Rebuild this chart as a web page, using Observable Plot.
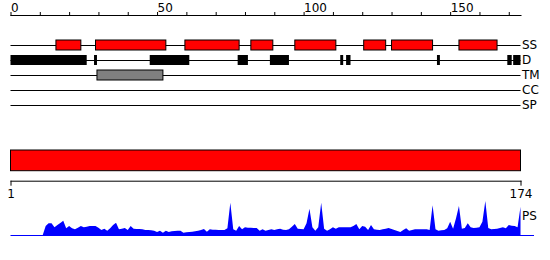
<!DOCTYPE html>
<html><head><meta charset="utf-8">
<script src="https://cdn.jsdelivr.net/npm/d3@7"></script>
<script src="https://cdn.jsdelivr.net/npm/@observablehq/plot@0.6"></script>
<style>
body{margin:0;background:#fff}
#chart{position:relative;width:550px;height:260px;font-family:"DejaVu Sans",sans-serif}
#chart svg{position:absolute;left:0}
</style>
</head><body><div id="chart"></div>
<script>
const tracks = ["SS","D","TM","CC","SP"];
const seqLength = 174;
const axisTicks = d3.range(0, 171, 10);
const axisLabels = [0, 50, 100, 150];
const rulerTicks = [1, 174];
const ssStart = [15.5, 29, 59.5, 82, 97, 120.5, 130, 153];
const ssEnd   = [24, 53, 78, 89.5, 111, 128, 144, 166];
const dStart  = [0, 28.5, 47.5, 77.5, 88.5, 112.5, 114.5, 145.5, 169.5, 171.5];
const dEnd    = [26, 29.5, 61, 81, 95, 113.5, 116, 146.5, 171, 174];
const tmStart = [29.5];
const tmEnd   = [52];
const psValues = [
0,0,0,0,0,0,0,0,0,0,0,
27,35,35,23,30,36,43,20,27,20,17,22,27,23,25,27,27,27,22,15,19,13,20,30,37,17,19,21,15,
27,19,18,18,17,15,15,14,13,9,13,7,13,9,11,12,13,13,7,8,9,10,11,13,15,18,10,17,16,16,
15,15,15,20,97,17,13,27,17,23,22,22,21,21,13,17,13,15,17,15,17,19,16,15,17,25,33,19,18,17,
35,79,23,13,23,97,19,13,17,23,19,23,23,23,23,23,27,33,17,27,25,15,30,17,16,15,17,19,21,18,
15,12,9,15,20,13,15,17,17,17,17,17,15,89,17,13,14,15,20,40,19,50,87,19,21,35,23,21,22,23,
40,102,21,17,18,19,21,23,20,30,28,27,23,85
];

const font = '"DejaVu Sans", sans-serif';
const chartDiv = document.getElementById("chart");
const mk = (arr0, arr1, track) => arr0.map((s, i) => ({start: s, end: arr1[i], track}));

const trackPlot = Plot.plot({
  width: 550, height: 115,
  marginTop: 15, marginLeft: 10.5, marginRight: 29.5, marginBottom: 0,
  style: {fontFamily: font, fontSize: "12px", background: "transparent", overflow: "visible"},
  x: {domain: [0, seqLength], axis: null},
  y: {type: "band", domain: tracks, range: [37.5, 112.5], paddingInner: 1/3, paddingOuter: 1/6, axis: null},
  marks: [
    Plot.frame({anchor: "top", stroke: "black"}),
    Plot.axisX({anchor: "top", ticks: axisTicks, tickSize: 4, tickPadding: 0,
      tickFormat: d => axisLabels.includes(d) ? String(d) : "", textAnchor: "start", fontSize: 12}),
    Plot.ruleY(tracks, {y: d => d, stroke: "black"}),
    Plot.barX(mk(ssStart, ssEnd, "SS"), {x1: "start", x2: "end", y: "track", fill: "#ff0000", stroke: "black"}),
    Plot.barX(mk(dStart, dEnd, "D"), {x1: "start", x2: "end", y: "track", fill: "black"}),
    Plot.barX(mk(tmStart, tmEnd, "TM"), {x1: "start", x2: "end", y: "track", fill: "#808080", stroke: "black"}),
    Plot.text(tracks.map(t => ({t, x: seqLength})), {x: "x", y: "t", text: "t", textAnchor: "start", dx: 1, fontSize: 12})
  ]
});
trackPlot.style.top = "0px";
chartDiv.appendChild(trackPlot);

const seqPlot = Plot.plot({
  width: 550, height: 60,
  marginTop: 10, marginBottom: 19.3, marginLeft: 10.5, marginRight: 29.5,
  style: {fontFamily: font, fontSize: "12px", background: "transparent", overflow: "visible"},
  x: {domain: [1, seqLength], axis: null},
  marks: [
    Plot.barX([{start: 1, end: seqLength}], {x1: "start", x2: "end", fill: "#ff0000", stroke: "black", insetBottom: 10}),
    Plot.frame({anchor: "bottom", stroke: "black"}),
    Plot.axisX({anchor: "bottom", ticks: rulerTicks, tickSize: 5, tickPadding: 3, tickFormat: d => String(d), fontSize: 12})
  ]
});
seqPlot.style.top = "140px";
chartDiv.appendChild(seqPlot);

const psData = psValues.map((v, i) => ({r: i + 1, v}));
const psPlot = Plot.plot({
  width: 550, height: 45,
  marginTop: 5, marginBottom: 5, marginLeft: 10.5, marginRight: 29.5,
  style: {fontFamily: font, fontSize: "12px", background: "transparent", overflow: "visible"},
  x: {domain: [0, seqLength], axis: null},
  y: {domain: [0, 105], axis: null},
  marks: [
    Plot.areaY(psData, {x: "r", y: "v", fill: "#0000ff"}),
    Plot.ruleY([0], {stroke: "#0000ff", insetRight: -13.5}),
    Plot.text(["PS"], {frameAnchor: "top-right", text: d => d, textAnchor: "start", dx: 1, dy: 11, fontSize: 12})
  ]
});
psPlot.style.top = "195px";
chartDiv.appendChild(psPlot);
</script>
</body></html>
